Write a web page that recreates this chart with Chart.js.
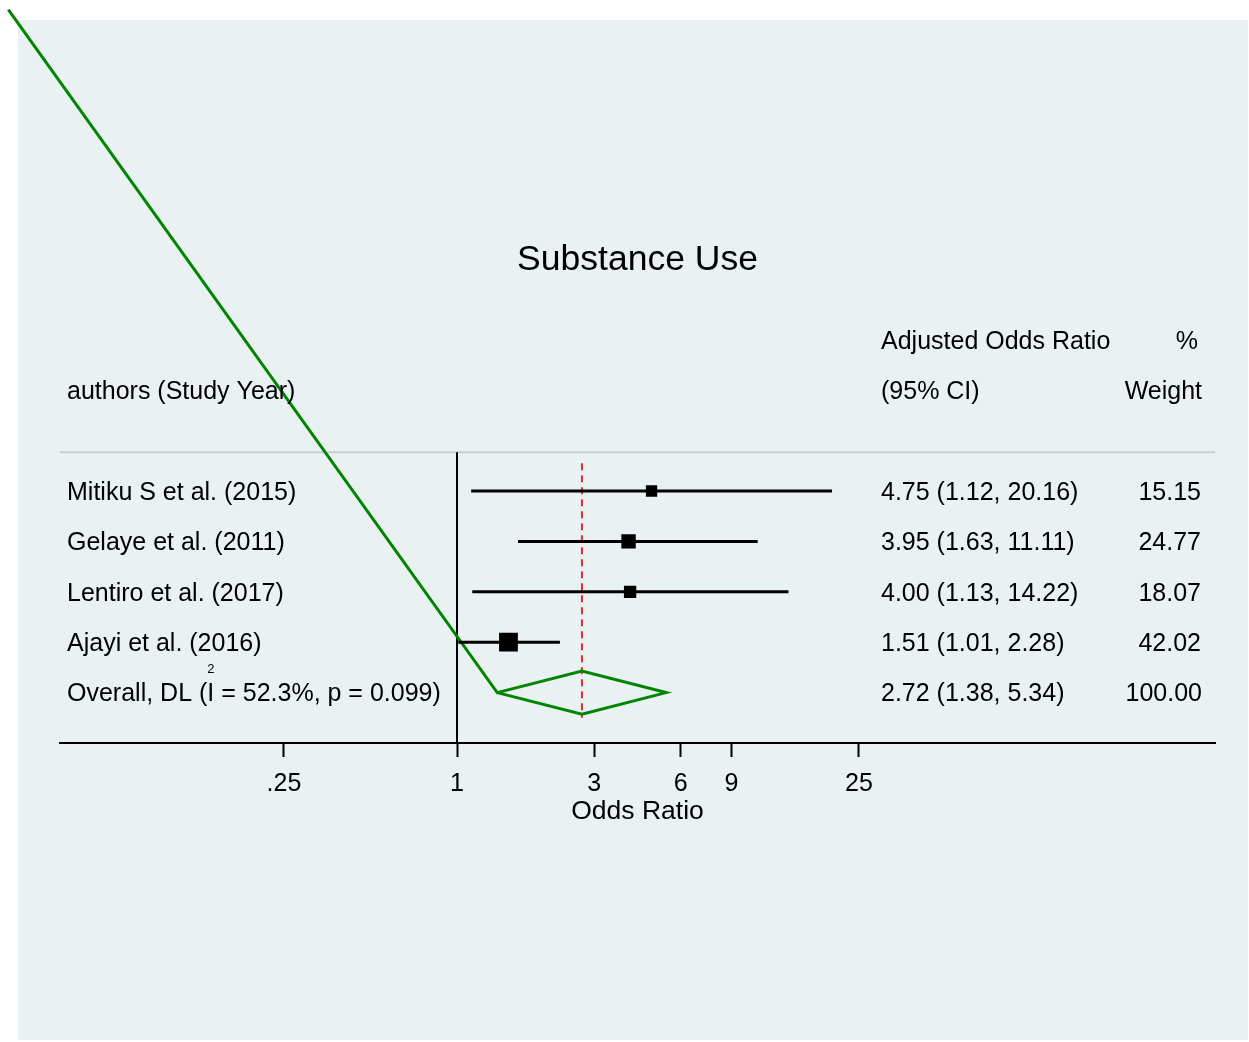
<!DOCTYPE html>
<html>
<head>
<meta charset="utf-8">
<title>Substance Use</title>
<script src="https://cdn.jsdelivr.net/npm/chart.js@4.4.1/dist/chart.umd.min.js"></script>
<style>
  html, body { margin: 0; padding: 0; background: #fff; }
  canvas { display: block; }
</style>
</head>
<body>
<canvas id="forest" width="1249" height="1042"></canvas>
<script>
// study rows, top to bottom
const studies = ['Mitiku S et al. (2015)', 'Gelaye et al. (2011)', 'Lentiro et al. (2017)', 'Ajayi et al. (2016)'];
const oddsRatios = [4.75, 3.95, 4.00, 1.51];
const lowerCI = [1.12, 1.63, 1.13, 1.01];
const upperCI = [20.16, 11.11, 14.22, 2.28];
const weights = [15.15, 24.77, 18.07, 42.02];
const studyRows = [5, 4, 3, 2];

// pooled estimate
const overallOR = 2.72, overallLower = 1.38, overallUpper = 5.34, overallWeight = 100.00;
const overallRow = 1;
const heterogeneity = ['52.3%', '0.099'];

// stray start of the diamond outline (top-left corner of the figure)
const strayStart = [0.0275, 14.55];

const tickValues = [0.25, 1, 3, 6, 9, 25];
const tickLabels = ['.25', '1', '3', '6', '9', '25'];
const xMin = 0.0416, xMax = 433;

const FONT = '"Liberation Sans", Arial, sans-serif';
Chart.defaults.font.family = FONT;

const fmt = v => v.toFixed(2);
const diamondHalf = 0.43;

const datasets = [];

datasets.push({
  data: studyRows.map((r, i) => ({ x: oddsRatios[i], y: r })),
  pointStyle: 'rect',
  pointRadius: weights.map(w => 2.05 * Math.sqrt(w)),
  backgroundColor: '#000',
  borderColor: '#000',
  borderWidth: 0
});

studyRows.forEach((r, i) => {
  datasets.push({
    data: [{ x: lowerCI[i], y: r }, { x: upperCI[i], y: r }],
    showLine: true, borderColor: '#000', borderWidth: 3, pointRadius: 0
  });
});

datasets.push({
  data: [
    { x: strayStart[0], y: strayStart[1] },
    { x: overallLower, y: overallRow },
    { x: overallOR, y: overallRow + diamondHalf },
    { x: overallUpper, y: overallRow },
    { x: overallOR, y: overallRow - diamondHalf },
    { x: overallLower, y: overallRow }
  ],
  showLine: true, borderColor: '#008500', borderWidth: 3, pointRadius: 0, clip: false
});

datasets.push({
  data: [{ x: overallOR, y: 5.55 }, { x: overallOR, y: 0.5 }],
  showLine: true, borderColor: '#e8282e', borderWidth: 2, borderDash: [7, 5], pointRadius: 0
});

datasets.push({
  data: [{ x: 1, y: 5.77 }, { x: 1, y: 0 }],
  showLine: true, borderColor: '#000', borderWidth: 2, pointRadius: 0
});

const forestText = {
  id: 'forestText',
  beforeDraw(chart) {
    const ctx = chart.ctx;
    ctx.save();
    ctx.fillStyle = '#fff';
    ctx.fillRect(0, 0, chart.width, chart.height);
    ctx.fillStyle = '#e9f1f3';
    ctx.fillRect(18, 20, chart.width - 19, chart.height - 22);
    ctx.restore();
  },
  beforeDatasetsDraw(chart) {
    const ctx = chart.ctx, a = chart.chartArea, y = chart.scales.y;
    ctx.save();
    ctx.strokeStyle = '#c9cdd0';
    ctx.lineWidth = 2;
    ctx.beginPath();
    ctx.moveTo(a.left, y.getPixelForValue(5.77));
    ctx.lineTo(a.right, y.getPixelForValue(5.77));
    ctx.stroke();
    ctx.restore();
  },
  afterDraw(chart) {
    const ctx = chart.ctx, a = chart.chartArea, ys = chart.scales.y;
    const rowY = v => ys.getPixelForValue(v) + 2;
    const leftX = a.left + 7, esX = 881, wtX = 1201;
    ctx.save();
    ctx.fillStyle = '#000';
    ctx.textBaseline = 'middle';
    ctx.font = '25px ' + FONT;

    ctx.textAlign = 'left';
    ctx.fillText('Adjusted Odds Ratio', esX, rowY(8));
    ctx.fillText('authors (Study Year)', leftX, rowY(7));
    ctx.fillText('(95% CI)', esX, rowY(7));
    ctx.textAlign = 'right';
    ctx.fillText('%', wtX - 3, rowY(8));
    ctx.fillText('Weight', wtX + 1, rowY(7));

    studies.forEach((s, i) => {
      const py = rowY(studyRows[i]);
      ctx.textAlign = 'left';
      ctx.fillText(s, leftX, py);
      ctx.fillText(`${fmt(oddsRatios[i])} (${fmt(lowerCI[i])}, ${fmt(upperCI[i])})`, esX, py);
      ctx.textAlign = 'right';
      ctx.fillText(fmt(weights[i]), wtX, py);
    });

    const oy = rowY(overallRow);
    ctx.textAlign = 'left';
    const part1 = 'Overall, DL (';
    ctx.fillText(part1, leftX, oy);
    const px = leftX + ctx.measureText(part1).width;
    ctx.fillText('I', px, oy);
    const iw = ctx.measureText('I').width;
    ctx.font = '13px ' + FONT;
    ctx.textAlign = 'center';
    ctx.fillText('2', px + iw / 2, oy - 25);
    ctx.font = '25px ' + FONT;
    ctx.textAlign = 'left';
    ctx.fillText(` = ${heterogeneity[0]}, p = ${heterogeneity[1]})`, px + iw, oy);
    ctx.fillText(`${fmt(overallOR)} (${fmt(overallLower)}, ${fmt(overallUpper)})`, esX, oy);
    ctx.textAlign = 'right';
    ctx.fillText(fmt(overallWeight), wtX + 1, oy);
    ctx.restore();
  }
};

new Chart(document.getElementById('forest'), {
  type: 'scatter',
  data: { datasets },
  options: {
    responsive: false,
    animation: false,
    events: [],
    layout: { padding: { left: 60, right: 34, top: 20, bottom: 216.75 } },
    plugins: {
      legend: { display: false },
      tooltip: { enabled: false },
      title: {
        display: true, text: 'Substance Use', color: '#000',
        font: { size: 35.5, weight: 'normal', lineHeight: 1 },
        padding: { top: 222.3, bottom: 11.6 }
      }
    },
    scales: {
      x: {
        type: 'logarithmic', min: xMin, max: xMax, bounds: 'data',
        afterBuildTicks: s => { s.ticks = tickValues.map(v => ({ value: v })); },
        afterFit: s => { s.height = 82.25; },
        ticks: {
          callback: (v, i) => tickLabels[i],
          color: '#000', font: { size: 25, lineHeight: 1 },
          padding: 15, maxRotation: 0, autoSkip: false
        },
        grid: { drawOnChartArea: false, drawTicks: true, tickLength: 14, tickWidth: 2, color: '#000' },
        border: { display: true, color: '#000', width: 2 },
        title: {
          display: true, text: 'Odds Ratio', color: '#000',
          font: { size: 26.5, lineHeight: 1 }, padding: { top: 0, bottom: 0 }
        }
      },
      y: { type: 'linear', min: 0, max: 9, display: false }
    }
  },
  plugins: [forestText]
});
</script>
</body>
</html>
